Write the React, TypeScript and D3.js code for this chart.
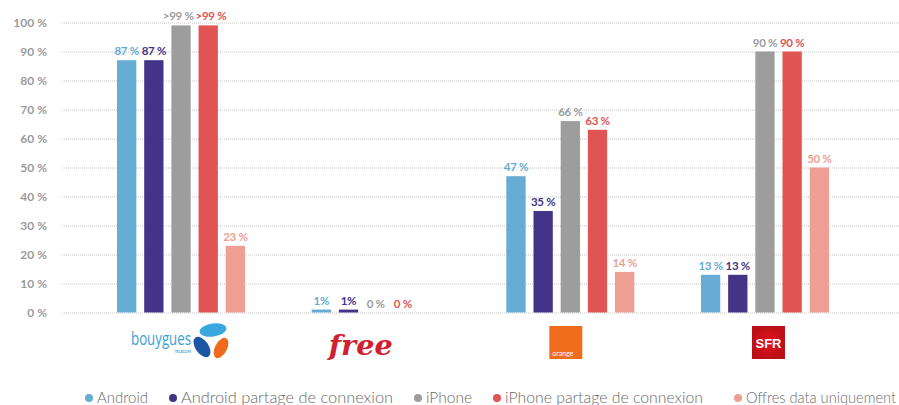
import { useRef, useEffect } from 'react';
import * as d3 from 'd3';

const companies = ['Bouygues Telecom', 'Free', 'Orange', 'SFR'];
const seriesNames = [
  'Android',
  'Android partage de connexion',
  'iPhone',
  'iPhone partage de connexion',
  'Offres data uniquement',
];
const seriesColors = ['#67acd5', '#433488', '#9d9d9d', '#e15454', '#ef9e94'];

// values per company (Bouygues, Free, Orange, SFR)
const android = [87, 1, 47, 13];
const androidShare = [87, 1, 35, 13];
const iphone = [99, 0, 66, 90];
const iphoneShare = [99, 0, 63, 90];
const dataOnly = [23, null, 14, 50];

const androidLabels = ['87 %', '1%', '47 %', '13 %'];
const androidShareLabels = ['87 %', '1%', '35 %', '13 %'];
const iphoneLabels = ['>99 %', '0 %', '66 %', '90 %'];
const iphoneShareLabels = ['>99 %', '0 %', '63 %', '90 %'];
const dataOnlyLabels = ['23 %', null, '14 %', '50 %'];

const yTicks = [0, 10, 20, 30, 40, 50, 60, 70, 80, 90, 100];

const allValues = [android, androidShare, iphone, iphoneShare, dataOnly];
const allLabels = [androidLabels, androidShareLabels, iphoneLabels, iphoneShareLabels, dataOnlyLabels];

// legend layout: dot x and text width
const legendX = [89, 173, 418, 497, 738];
const legendW = [51, 212, 46, 198, 150];

const W = 899;
const H = 405;
const FONT = 'Lato, "Open Sans", sans-serif';

function drawLogo(g, name, cx) {
  if (name === 'Bouygues Telecom') {
    g.append('text')
      .attr('x', cx - 50)
      .attr('y', 345)
      .attr('textLength', 60)
      .attr('lengthAdjust', 'spacingAndGlyphs')
      .attr('font-family', '"Open Sans", sans-serif')
      .attr('font-size', 17.5)
      .attr('fill', '#3ba1d9')
      .text('bouygues');
    g.append('text')
      .attr('x', cx + 10)
      .attr('y', 352.5)
      .attr('text-anchor', 'end')
      .attr('font-family', FONT)
      .attr('font-size', 3.5)
      .attr('font-weight', 700)
      .attr('fill', '#3ba1d9')
      .text('TELECOM');
    const ix = cx + 28;
    g.append('ellipse')
      .attr('cx', ix + 4).attr('cy', 330).attr('rx', 13.5).attr('ry', 6.5)
      .attr('transform', `rotate(-8 ${ix + 4} 330)`)
      .attr('fill', '#38a8df');
    g.append('ellipse')
      .attr('cx', ix - 7).attr('cy', 347).attr('rx', 6.5).attr('ry', 11.5)
      .attr('transform', `rotate(-35 ${ix - 7} 347)`)
      .attr('fill', '#1c55a3');
    g.append('ellipse')
      .attr('cx', ix + 12).attr('cy', 348).attr('rx', 6).attr('ry', 11)
      .attr('transform', `rotate(28 ${ix + 12} 348)`)
      .attr('fill', '#ee6a1c');
  } else if (name === 'Free') {
    g.append('text')
      .attr('x', cx - 47)
      .attr('y', 355)
      .attr('textLength', 64)
      .attr('lengthAdjust', 'spacingAndGlyphs')
      .attr('font-family', '"DejaVu Serif", serif')
      .attr('font-style', 'italic')
      .attr('font-weight', 700)
      .attr('font-size', 27)
      .attr('fill', '#d0202f')
      .text('free');
  } else if (name === 'Orange') {
    g.append('rect')
      .attr('x', cx - 21).attr('y', 326).attr('width', 33).attr('height', 33)
      .attr('fill', '#f06d1b');
    g.append('text')
      .attr('x', cx - 18)
      .attr('y', 356)
      .attr('font-family', FONT)
      .attr('font-size', 7)
      .attr('fill', '#fff')
      .text('orange');
  } else if (name === 'SFR') {
    g.append('rect')
      .attr('x', cx - 13).attr('y', 326).attr('width', 33).attr('height', 33)
      .attr('fill', 'url(#sfrGrad)');
    g.append('text')
      .attr('x', cx + 3.5)
      .attr('y', 347.5)
      .attr('text-anchor', 'middle')
      .attr('font-family', '"Liberation Sans", Arial, sans-serif')
      .attr('font-weight', 700)
      .attr('font-size', 13)
      .attr('fill', '#fff')
      .text('SFR');
  }
}

function App() {
  const svgRef = useRef(null);

  useEffect(() => {
    const svg = d3.select(svgRef.current);
    svg.selectAll('*').remove();

    const defs = svg.append('defs');
    const grad = defs.append('radialGradient').attr('id', 'sfrGrad');
    grad.append('stop').attr('offset', '0%').attr('stop-color', '#e8121c');
    grad.append('stop').attr('offset', '100%').attr('stop-color', '#bb0f18');

    const left = 62;
    const yScale = d3.scaleLinear().domain([0, 100]).range([312.5, 22.5]);

    const xScale = d3.scaleBand().domain(companies).range([83.7, 862.3]);
    const inner = d3
      .scaleBand()
      .domain(seriesNames)
      .range([xScale.bandwidth() / 2 - 64, xScale.bandwidth() / 2 + 64])
      .paddingInner(0.29)
      .paddingOuter(0);

    const yAxis = d3
      .axisLeft(yScale)
      .tickValues(yTicks)
      .tickFormat((d) => `${d} %`)
      .tickSize(-(W - left))
      .tickPadding(15);

    const axisG = svg
      .append('g')
      .attr('transform', `translate(${left}, 0)`)
      .call(yAxis);
    axisG.select('.domain').remove();
    axisG
      .selectAll('line')
      .attr('stroke', '#c4c4c4')
      .attr('stroke-dasharray', '1,1');
    axisG
      .selectAll('text')
      .attr('font-family', FONT)
      .attr('font-weight', 700)
      .attr('font-size', 12)
      .attr('fill', '#9b9b9b');

    const groups = svg
      .append('g')
      .selectAll('g')
      .data(companies)
      .enter()
      .append('g')
      .attr('transform', (d) => `translate(${xScale(d)}, 0)`);

    groups.each(function (company, ci) {
      const g = d3.select(this);
      const texts = [];
      seriesNames.forEach((s, si) => {
        const v = allValues[si][ci];
        if (v === null) return;
        const x = inner(s);
        if (v > 0) {
          g.append('rect')
            .attr('x', x)
            .attr('y', yScale(v))
            .attr('width', inner.bandwidth())
            .attr('height', yScale(0) - yScale(v))
            .attr('fill', seriesColors[si]);
        }
        const label = allLabels[si][ci];
        if (label) {
          const t = g
            .append('text')
            .attr('x', x + inner.bandwidth() / 2)
            .attr('y', yScale(v) - 5)
            .attr('text-anchor', 'middle')
            .attr('font-family', FONT)
            .attr('font-weight', 700)
            .attr('font-size', 11.5)
            .attr('letter-spacing', -0.3)
            .attr('fill', seriesColors[si])
            .text(label);
          texts.push(t);
        }
      });
      // push apart labels that collide on the same row
      for (let i = 1; i < texts.length; i++) {
        const a = texts[i - 1].node().getBBox();
        const b = texts[i].node().getBBox();
        const sameRow = Math.abs(a.y - b.y) < a.height;
        const overlap = a.x + a.width + 2 - b.x;
        if (sameRow && overlap > 0) {
          texts[i - 1].attr('x', +texts[i - 1].attr('x') - overlap / 2);
          texts[i].attr('x', +texts[i].attr('x') + overlap / 2);
        }
      }
    });

    const logos = svg.append('g');
    companies.forEach((c) => {
      drawLogo(logos, c, xScale(c) + xScale.bandwidth() / 2);
    });

    const legend = svg.append('g');
    seriesNames.forEach((s, i) => {
      legend
        .append('circle')
        .attr('cx', legendX[i])
        .attr('cy', 398)
        .attr('r', 4)
        .attr('fill', seriesColors[i]);
      legend
        .append('text')
        .attr('x', legendX[i] + 8)
        .attr('y', 403)
        .attr('textLength', legendW[i])
        .attr('lengthAdjust', 'spacingAndGlyphs')
        .attr('font-family', FONT)
        .attr('font-weight', 300)
        .attr('font-size', 15)
        .attr('fill', '#6a6a6a')
        .text(s);
    });

    return () => {
      svg.selectAll('*').remove();
    };
  }, []);

  return (
    <svg
      ref={svgRef}
      width={W}
      height={H}
      style={{ position: 'absolute', left: 0, top: 0, background: '#fff' }}
    />
  );
}

export default App;
